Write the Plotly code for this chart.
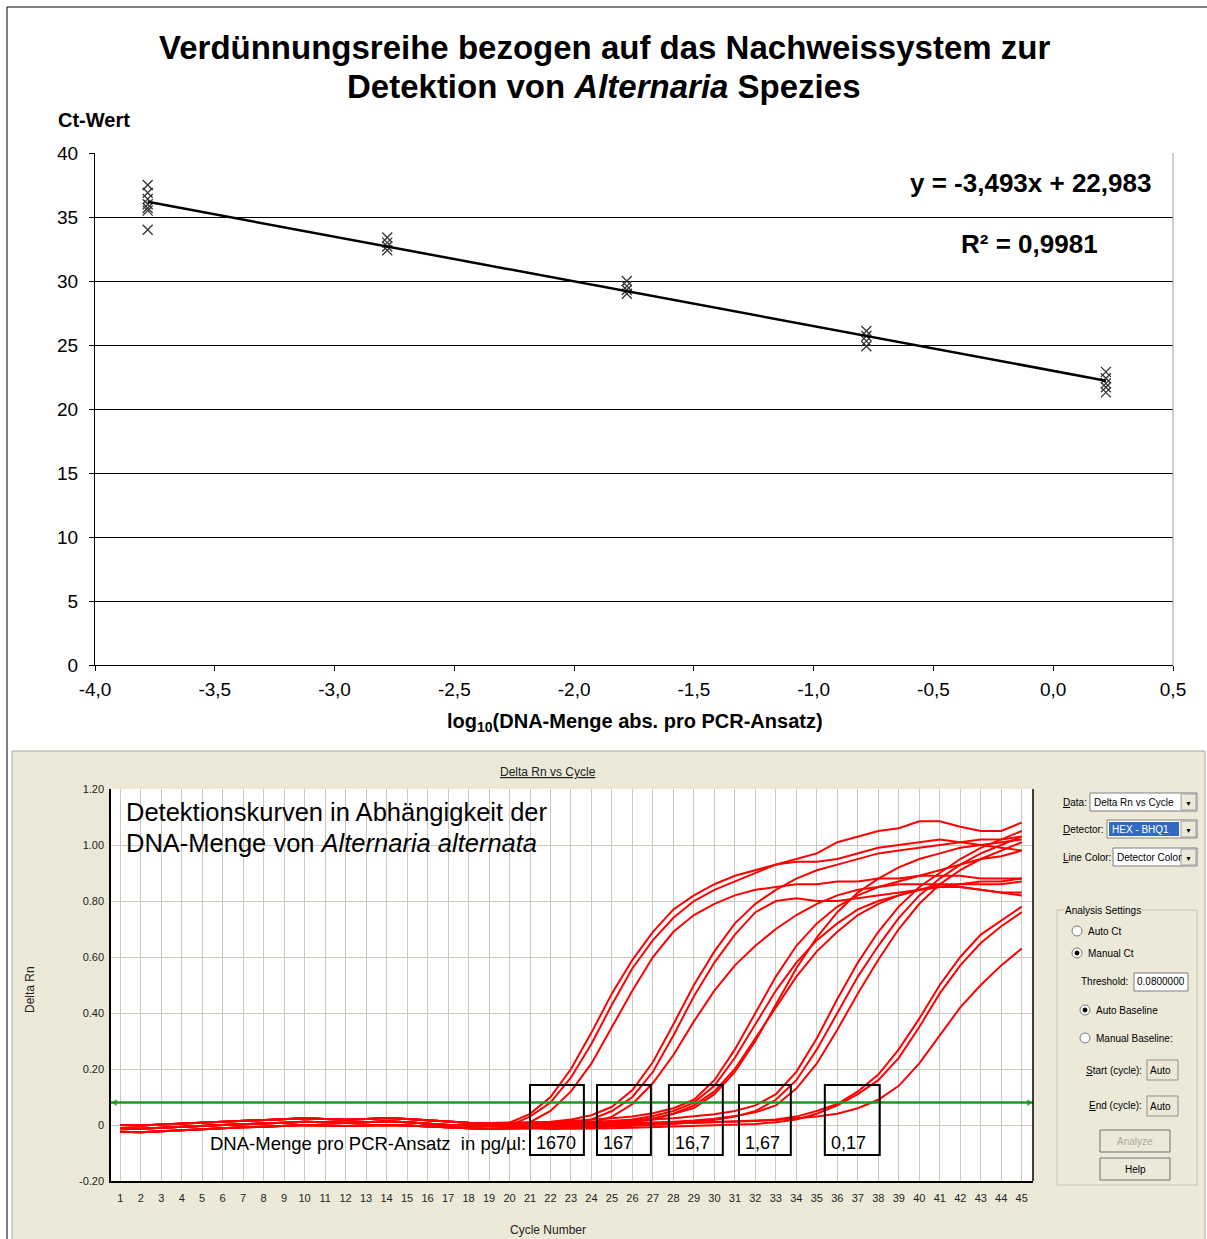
import plotly.graph_objects as go

W, H = 1207, 1239
SANS = "Liberation Sans, Arial, sans-serif"

# ---------------- data: standard curve ----------------
log_dna = [-3.78, -2.78, -1.78, -0.78, 0.22]
ct_values = [
    [37.5, 36.9, 36.4, 36.0, 35.7, 35.5, 34.0],
    [33.4, 33.0, 32.7, 32.4],
    [30.0, 29.6, 29.3, 29.0],
    [26.1, 25.7, 25.3, 24.9],
    [22.9, 22.4, 22.0, 21.7, 21.3],
]
slope = -3.493
intercept = 22.983
r_squared = 0.9981
x_ticks = [-4.0, -3.5, -3.0, -2.5, -2.0, -1.5, -1.0, -0.5, 0.0, 0.5]
x_ticklabels = ["-4,0", "-3,5", "-3,0", "-2,5", "-2,0", "-1,5", "-1,0", "-0,5", "0,0", "0,5"]
y_ticks = [0, 5, 10, 15, 20, 25, 30, 35, 40]

# ---------------- data: amplification curves ----------------
cycles = list(range(1, 46))
base_lo = [-0.024, -0.026, -0.022, -0.018, -0.014, -0.010, -0.008, -0.006, -0.003, 0.000,
           -0.002, -0.004, -0.002, 0.000, -0.002, -0.006, -0.010, -0.012, -0.013, -0.012]
base_mid = [-0.012, -0.013, -0.010, -0.006, -0.003, 0.000, 0.003, 0.005, 0.008, 0.012,
            0.010, 0.008, 0.010, 0.013, 0.010, 0.005, 0.000, -0.002, -0.003, -0.002]
base_hi = [0.000, -0.002, 0.002, 0.005, 0.008, 0.011, 0.014, 0.016, 0.019, 0.024,
           0.021, 0.019, 0.021, 0.025, 0.021, 0.016, 0.011, 0.008, 0.007, 0.008]

curves = [
    # 1670 pg/µl
    base_hi + [0.04, 0.10, 0.20, 0.33, 0.47, 0.59, 0.69, 0.77, 0.82, 0.86, 0.89, 0.91, 0.93, 0.95, 0.97, 1.01, 1.03, 1.05, 1.06, 1.085, 1.085, 1.065, 1.05, 1.05, 1.08],
    base_mid + [0.03, 0.08, 0.17, 0.29, 0.43, 0.56, 0.66, 0.74, 0.80, 0.84, 0.87, 0.90, 0.93, 0.94, 0.94, 0.95, 0.97, 0.99, 1.00, 1.01, 1.02, 1.01, 1.00, 0.99, 0.98],
    base_lo + [0.01, 0.05, 0.12, 0.22, 0.35, 0.48, 0.60, 0.69, 0.75, 0.79, 0.82, 0.84, 0.85, 0.86, 0.86, 0.87, 0.87, 0.88, 0.88, 0.89, 0.89, 0.89, 0.88, 0.88, 0.88],
    # 167 pg/µl
    base_hi + [0.008, 0.012, 0.02, 0.035, 0.065, 0.125, 0.225, 0.36, 0.50, 0.62, 0.72, 0.79, 0.84, 0.88, 0.91, 0.93, 0.95, 0.97, 0.98, 0.99, 1.00, 1.01, 1.02, 1.02, 1.03],
    base_mid + [-0.002, 0.002, 0.008, 0.02, 0.05, 0.10, 0.19, 0.32, 0.46, 0.58, 0.68, 0.76, 0.80, 0.81, 0.80, 0.80, 0.81, 0.82, 0.83, 0.84, 0.85, 0.86, 0.86, 0.86, 0.87],
    base_lo + [-0.01, -0.008, -0.004, 0.006, 0.03, 0.075, 0.15, 0.25, 0.37, 0.48, 0.57, 0.64, 0.70, 0.75, 0.79, 0.82, 0.84, 0.85, 0.86, 0.86, 0.86, 0.85, 0.84, 0.83, 0.83],
    # 16,7 pg/µl
    base_hi + [0.008, 0.01, 0.014, 0.018, 0.024, 0.03, 0.042, 0.06, 0.09, 0.16, 0.27, 0.40, 0.53, 0.64, 0.72, 0.78, 0.82, 0.85, 0.87, 0.89, 0.91, 0.93, 0.95, 0.96, 0.98],
    base_mid + [-0.002, 0.0, 0.004, 0.008, 0.014, 0.02, 0.032, 0.05, 0.08, 0.14, 0.24, 0.36, 0.48, 0.58, 0.66, 0.72, 0.77, 0.80, 0.82, 0.84, 0.86, 0.86, 0.87, 0.87, 0.88],
    base_lo + [-0.012, -0.01, -0.006, -0.002, 0.004, 0.01, 0.02, 0.04, 0.07, 0.12, 0.20, 0.31, 0.42, 0.53, 0.62, 0.69, 0.75, 0.79, 0.82, 0.84, 0.85, 0.85, 0.84, 0.83, 0.82],
    base_mid + [-0.004, -0.002, 0.0, 0.004, 0.008, 0.014, 0.024, 0.04, 0.06, 0.11, 0.19, 0.30, 0.43, 0.56, 0.67, 0.76, 0.83, 0.88, 0.92, 0.95, 0.97, 0.99, 1.00, 1.01, 1.02],
    # 1,67 pg/µl
    base_hi + [0.008, 0.008, 0.01, 0.012, 0.014, 0.016, 0.02, 0.024, 0.03, 0.038, 0.05, 0.07, 0.11, 0.19, 0.31, 0.45, 0.58, 0.69, 0.78, 0.85, 0.90, 0.95, 0.99, 1.02, 1.05],
    base_lo + [-0.012, -0.012, -0.01, -0.008, -0.006, -0.004, 0.0, 0.004, 0.01, 0.018, 0.03, 0.05, 0.09, 0.16, 0.27, 0.40, 0.53, 0.64, 0.74, 0.82, 0.88, 0.93, 0.97, 1.00, 1.03],
    base_mid + [-0.002, -0.002, 0.0, 0.002, 0.004, 0.006, 0.008, 0.012, 0.016, 0.022, 0.032, 0.045, 0.07, 0.13, 0.22, 0.34, 0.47, 0.59, 0.70, 0.79, 0.86, 0.91, 0.95, 0.98, 1.01],
    # 0,17 pg/µl
    base_mid + [-0.002, -0.004, -0.004, -0.004, -0.002, 0.0, 0.002, 0.004, 0.006, 0.008, 0.01, 0.014, 0.02, 0.03, 0.05, 0.075, 0.12, 0.18, 0.27, 0.38, 0.50, 0.60, 0.68, 0.73, 0.78],
    base_lo + [-0.012, -0.014, -0.014, -0.014, -0.012, -0.01, -0.008, -0.006, -0.004, -0.002, 0.0, 0.004, 0.01, 0.02, 0.04, 0.07, 0.11, 0.16, 0.24, 0.35, 0.47, 0.57, 0.65, 0.71, 0.76],
    base_hi + [0.008, 0.006, 0.004, 0.004, 0.004, 0.006, 0.006, 0.008, 0.008, 0.01, 0.012, 0.014, 0.018, 0.024, 0.03, 0.04, 0.06, 0.09, 0.14, 0.22, 0.32, 0.42, 0.50, 0.57, 0.63],
]
threshold = 0.08
rn_ticks = [-0.2, 0.0, 0.2, 0.4, 0.6, 0.8, 1.0, 1.2]
rn_ticklabels = ["-0.20", "0", "0.20", "0.40", "0.60", "0.80", "1.00", "1.20"]
dna_labels = ["1670", "167", "16,7", "1,67", "0,17"]
dna_box_cycles = [(21.0, 23.63), (24.27, 26.9), (27.78, 30.41), (31.2, 33.73), (35.39, 38.07)]

# ---------------- helpers ----------------
shapes = []
annotations = []


def rect(x0, y0, x1, y1, fill=None, line="#000", lw=1, layer="above"):
    shapes.append(dict(type="rect", xref="paper", yref="paper",
                       x0=x0 / W, x1=x1 / W, y0=1 - y1 / H, y1=1 - y0 / H,
                       fillcolor=fill if fill else "rgba(0,0,0,0)",
                       line=dict(color=line, width=lw), layer=layer))


def hline(x0, x1, y, color="#000", lw=1, layer="above"):
    shapes.append(dict(type="line", xref="paper", yref="paper", x0=x0 / W, x1=x1 / W,
                       y0=1 - y / H, y1=1 - y / H, line=dict(color=color, width=lw), layer=layer))


def vline(x, y0, y1, color="#000", lw=1, layer="above"):
    shapes.append(dict(type="line", xref="paper", yref="paper", x0=x / W, x1=x / W,
                       y0=1 - y0 / H, y1=1 - y1 / H, line=dict(color=color, width=lw), layer=layer))


def circle(cx, cy, r, fill="#fff", line="#7a7a7a"):
    shapes.append(dict(type="circle", xref="paper", yref="paper",
                       x0=(cx - r) / W, x1=(cx + r) / W, y0=1 - (cy + r) / H, y1=1 - (cy - r) / H,
                       fillcolor=fill, line=dict(color=line, width=1), layer="above"))


def txt(x, y, s, size=11, color="#000", xa="left", ya="middle", family=SANS, bg="rgba(0,0,0,0)"):
    annotations.append(dict(xref="paper", yref="paper", x=x / W, y=1 - y / H, text=s,
                            showarrow=False, xanchor=xa, yanchor=ya, bgcolor=bg,
                            borderpad=0, font=dict(size=size, color=color, family=family)))


def ul(s):
    return '<span style="text-decoration:underline">' + s + '</span>'


fig = go.Figure()

# ---------------- top chart traces ----------------
xs, ys = [], []
for xv, grp in zip(log_dna, ct_values):
    for v in grp:
        xs.append(xv)
        ys.append(v)
fig.add_trace(go.Scatter(x=xs, y=ys, mode="markers", xaxis="x", yaxis="y",
                         marker=dict(symbol="x-thin", size=10, color="#333",
                                     line=dict(width=1.3, color="#333")),
                         hoverinfo="skip"))
fit_x = [log_dna[0], log_dna[-1]]
fit_y = [slope * v + intercept for v in fit_x]
fig.add_trace(go.Scatter(x=fit_x, y=fit_y, mode="lines", xaxis="x", yaxis="y",
                         line=dict(color="#000", width=2.5), hoverinfo="skip"))

# ---------------- bottom chart traces ----------------
for c in curves:
    fig.add_trace(go.Scatter(x=cycles, y=c, mode="lines", xaxis="x2", yaxis="y2",
                             line=dict(color="#FF0000", width=2), hoverinfo="skip"))
fig.add_trace(go.Scatter(x=[0.55, 45.55], y=[threshold, threshold], mode="lines",
                         xaxis="x2", yaxis="y2", line=dict(color="#1F9A1F", width=2.5),
                         hoverinfo="skip"))
fig.add_trace(go.Scatter(x=[0.75, 45.35], y=[threshold, threshold], mode="markers",
                         xaxis="x2", yaxis="y2",
                         marker=dict(symbol=["triangle-left", "triangle-right"], size=6,
                                     color="#1F9A1F"), hoverinfo="skip"))

# ---------------- background / frames ----------------
hline(7, 1207, 7, layer="below")
vline(7, 7, 1239, layer="below")
rect(12, 751, 1205, 1240, fill="#ECE9D8", line="#ACA899", lw=1, layer="below")
rect(111, 789, 1033, 1181, fill="#FFFFFF", line="#FFFFFF", lw=0, layer="below")
vline(1173, 153, 665, color="#A0A0A0")
vline(1033, 789, 1181, color="#000", lw=1.5)

# DNA boxes
for (c0, c1), lab in zip(dna_box_cycles, dna_labels):
    shapes.append(dict(type="rect", xref="x2", yref="y2", x0=c0, x1=c1, y0=-0.107, y1=0.143,
                       line=dict(color="#000", width=2), fillcolor="rgba(0,0,0,0)", layer="above"))
    annotations.append(dict(xref="x2", yref="y2", x=c0 + 0.2, y=-0.065, text=lab, showarrow=False,
                            xanchor="left", yanchor="middle",
                            font=dict(size=18, color="#000", family=SANS)))

# ---------------- top texts ----------------
txt(604, 48, "<b>Verdünnungsreihe bezogen auf das Nachweissystem zur</b>", size=33, xa="center")
txt(604, 87, "<b>Detektion von <i>Alternaria</i> Spezies</b>", size=33, xa="center")
txt(57, 120, "<b>Ct-Wert</b>", size=20)
eq = "y = {:.3f}x + {:.3f}".format(slope, intercept).replace(".", ",")
txt(1030, 183, "<b>" + eq + "</b>", size=26, xa="center")
txt(1029, 244, "<b>R² = " + "{:.4f}".format(r_squared).replace(".", ",") + "</b>", size=26, xa="center")
txt(635, 722, "<b>log<sub>10</sub>(DNA-Menge abs. pro PCR-Ansatz)</b>", size=20, xa="center")

# ---------------- bottom chart texts ----------------
txt(548, 772, ul("Delta Rn vs Cycle"), size=12, xa="center", color="#222")
txt(30, 990, "Delta Rn", size=12, xa="center", color="#222")
annotations[-1]["textangle"] = -90
txt(548, 1230, "Cycle Number", size=12, xa="center", color="#222")
txt(125, 812, "Detektionskurven in Abhängigkeit der", size=25.5)
txt(125, 843, "DNA-Menge von <i>Alternaria alternata</i>", size=25.5)
txt(527, 1143, "DNA-Menge pro PCR-Ansatz  in pg/µl:", size=18.5, xa="right")

# ---------------- side panel (UI) ----------------
UI = SANS
FS = 10


def dropdown(x0, x1, y0, y1, text, highlight=False):
    rect(x0, y0, x1, y1, fill="#FFFFFF", line="#7F7F7F")
    rect(x1 - 16, y0 + 1, x1 - 1, y1 - 1, fill="#ECE9D8", line="#A0A0A0")
    txt(x1 - 8.5, (y0 + y1) / 2 + 1, "▼", size=7, xa="center", color="#000")
    if highlight:
        rect(x0 + 2, y0 + 2, x1 - 18, y1 - 2, fill="#316AC5", line="#316AC5", lw=0)
        txt(x0 + 4, (y0 + y1) / 2, text, size=FS, color="#FFFFFF", family=UI)
    else:
        txt(x0 + 3, (y0 + y1) / 2, text, size=FS, family=UI)


txt(1062, 802, ul("D") + "ata:", size=FS, family=UI)
dropdown(1090, 1197, 793, 811, "Delta Rn vs Cycle")
txt(1062, 829, ul("D") + "etector:", size=FS, family=UI)
dropdown(1107, 1197, 820, 838, "HEX - BHQ1", highlight=True)
txt(1062, 857, ul("L") + "ine Color:", size=FS, family=UI)
dropdown(1113, 1197, 848, 866, "Detector Color")

rect(1057, 910, 1197, 1185, line="#C8C4B0")
txt(1064, 910, "Analysis Settings", size=FS, family=UI, bg="#ECE9D8")
circle(1077, 931, 5)
txt(1087, 931, "Auto Ct", size=FS, family=UI)
circle(1077, 953, 5)
circle(1077, 953, 2, fill="#000", line="#000")
txt(1087, 953, "Manual Ct", size=FS, family=UI)
txt(1129, 982, "Threshold:", size=FS, family=UI, xa="right")
rect(1134, 973, 1188, 991, fill="#FFFFFF", line="#7F7F7F")
txt(1136, 982, "0.0800000", size=FS, family=UI)
circle(1085, 1010, 5)
circle(1085, 1010, 2, fill="#000", line="#000")
txt(1095, 1010, "Auto Baseline", size=FS, family=UI)
circle(1085, 1038, 5)
txt(1095, 1038, "Manual Baseline:", size=FS, family=UI)
txt(1143, 1070, ul("S") + "tart (cycle):", size=FS, family=UI, xa="right")
rect(1147, 1060, 1178, 1080, fill="#ECE9D8", line="#8F8F8F")
txt(1149, 1070, "Auto", size=FS, family=UI)
txt(1143, 1105, ul("E") + "nd (cycle):", size=FS, family=UI, xa="right")
rect(1147, 1096, 1178, 1116, fill="#ECE9D8", line="#8F8F8F")
txt(1149, 1106, "Auto", size=FS, family=UI)
rect(1100, 1130, 1170, 1152, fill="#ECE9D8", line="#6F6F6F")
txt(1135, 1141, "Analyze", size=FS, family=UI, xa="center", color="#ACA899")
rect(1100, 1158, 1170, 1180, fill="#ECE9D8", line="#6F6F6F")
txt(1135, 1169, "Help", size=FS, family=UI, xa="center")

# ---------------- layout ----------------
fig.update_layout(
    width=W, height=H, margin=dict(l=0, r=0, t=0, b=0, pad=0), autosize=False,
    paper_bgcolor="#FFFFFF", plot_bgcolor="rgba(0,0,0,0)",
    showlegend=False, font=dict(family=SANS),
    shapes=shapes, annotations=annotations,
    xaxis=dict(domain=[95 / W, 1173 / W], range=[-4, 0.5], anchor="y", automargin=False,
               tickvals=x_ticks, ticktext=x_ticklabels, ticks="outside", ticklen=5,
               ticklabelstandoff=2,
               tickcolor="#000", showline=True, linecolor="#000", linewidth=1,
               showgrid=False, zeroline=False, tickfont=dict(size=19, color="#000")),
    yaxis=dict(domain=[1 - 665 / H, 1 - 153 / H], range=[0, 40], anchor="x", automargin=False,
               tickvals=y_ticks, ticks="outside", ticklen=5, tickcolor="#000",
               ticklabelstandoff=7,
               showline=True, linecolor="#000", linewidth=1,
               showgrid=True, gridcolor="#000", gridwidth=1, zeroline=False,
               tickfont=dict(size=19, color="#000")),
    xaxis2=dict(domain=[111 / W, 1033 / W], range=[0.55, 45.55], anchor="y2", automargin=False,
                tickvals=cycles, ticktext=[str(c) for c in cycles], ticks="",
                ticklabelstandoff=6,
                showline=True, linecolor="#000", linewidth=1.5,
                showgrid=True, gridcolor="#CCC9BC", gridwidth=1, zeroline=False,
                tickfont=dict(size=11, color="#222")),
    yaxis2=dict(domain=[1 - 1181 / H, 1 - 789 / H], range=[-0.2, 1.2], anchor="x2", automargin=False,
                tickvals=rn_ticks, ticktext=rn_ticklabels, ticks="",
                ticklabelstandoff=3,
                showline=True, linecolor="#000", linewidth=1.5,
                showgrid=True, gridcolor="#CCC9BC", gridwidth=1, zeroline=False,
                tickfont=dict(size=11, color="#222")),
)

fig.write_html("out.html")
